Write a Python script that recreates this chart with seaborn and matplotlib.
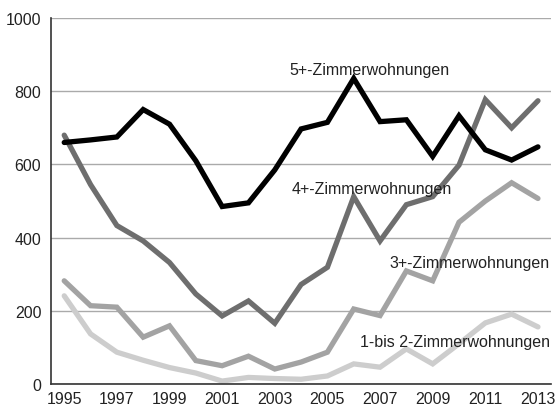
import matplotlib
matplotlib.use('Agg')
import matplotlib.pyplot as plt
import pandas as pd
import seaborn as sns
import numpy as np

years = list(range(1995, 2014))
rooms_5 = [660, 667, 675, 750, 710, 610, 485, 495, 585, 697, 715, 835, 717, 722, 622, 733, 640, 612, 648]
rooms_4 = [680, 545, 433, 391, 332, 246, 186, 227, 166, 272, 319, 512, 391, 490, 512, 598, 777, 700, 774]
rooms_3 = [282, 214, 210, 128, 159, 64, 50, 76, 41, 60, 87, 205, 187, 309, 282, 442, 500, 550, 507]
rooms_12 = [241, 137, 87, 65, 45, 30, 8, 18, 15, 13, 22, 55, 46, 96, 55, 110, 167, 191, 156]

names = ['5+-Zimmerwohnungen', '4+-Zimmerwohnungen', '3+-Zimmerwohnungen', '1-bis 2-Zimmerwohnungen']
colors = ['#000000', '#6e6e6e', '#a3a3a3', '#cdcdcd']

df = pd.DataFrame({
    'Jahr': years * 4,
    'Wert': rooms_5 + rooms_4 + rooms_3 + rooms_12,
    'Typ': np.repeat(names, len(years)),
})

sns.set_style('white')
plt.rcParams['font.family'] = ['Liberation Sans', 'DejaVu Sans']

fig = plt.figure(figsize=(5.55, 4.14), dpi=100)
ax = fig.add_axes([0.092, 0.070, 0.901, 0.884])

# draw light lines first so black sits on top
for name, col in list(zip(names, colors))[::-1]:
    sns.lineplot(data=df[df['Typ'] == name], x='Jahr', y='Wert', color=col,
                 linewidth=3.8, ax=ax, legend=False, solid_joinstyle='miter')

ax.set_xlim(1994.5, 2013.5)
ax.set_ylim(0, 1000)
ax.set_yticks([0, 200, 400, 600, 800, 1000])
ax.set_xticks(range(1995, 2014, 2))
ax.set_xticks(np.arange(1995.5, 2013.6, 1), minor=True)
ax.tick_params(axis='x', which='major', length=0, labelsize=11.5, pad=5, colors='#222222')
ax.tick_params(axis='x', which='minor', length=8, width=1.1, direction='in', color='#333333')
ax.tick_params(axis='y', length=0, labelsize=11.5, pad=7, colors='#222222')
ax.yaxis.grid(True, color='#aaaaaa', linewidth=1)
ax.set_axisbelow(True)
ax.set_xlabel('')
ax.set_ylabel('')
for s in ['top', 'right']:
    ax.spines[s].set_visible(False)
for s in ['left', 'bottom']:
    ax.spines[s].set_color('#333333')
    ax.spines[s].set_linewidth(1.2)

ax.text(2006.6, 860, names[0], fontsize=11.5, ha='center', va='center', color='#222222')
ax.text(2006.7, 533, names[1], fontsize=11.5, ha='center', va='center', color='#222222')
ax.text(2013.45, 333, names[2], fontsize=11.5, ha='right', va='center', color='#222222')
ax.text(2013.45, 117, names[3], fontsize=11.5, ha='right', va='center', color='#222222', zorder=5)

fig.savefig('out.png', dpi=100)
